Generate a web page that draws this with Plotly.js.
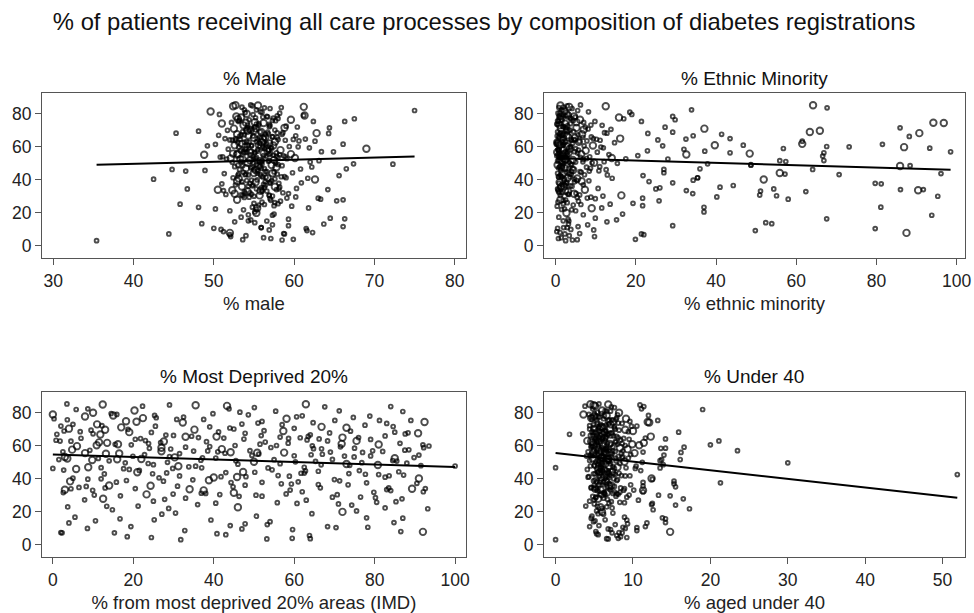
<!DOCTYPE html>
<html>
<head>
<meta charset="utf-8">
<script src="https://cdn.plot.ly/plotly-3.0.1.min.js"></script>
<style>html,body{margin:0;padding:0;background:#fff;}#chart{width:974px;height:613px;}</style>
</head>
<body>
<div id="chart"></div>
<script>
// Shared outcome: % of patients receiving all care processes (one value per practice)
const carePct = [
85.2,84.8,85.0,83.6,84.2,83.8,85.4,84.6,83.2,84.0,
82.0,82.4,81.4,82.4,81.0,80.4,79.0,81.2,80.0,79.6,
78.8,77.8,79.0,78.4,78.4,77.0,77.6,76.4,76.4,77.2,
75.4,75.4,75.4,74.4,74.6,76.0,74.1,73.0,72.5,74.8,
71.5,73.0,71.9,70.2,71.0,72.0,70.6,73.6,71.5,70.0,
69.5,68.3,68.3,68.1,69.0,66.3,67.6,68.9,69.7,66.7,
67.0,65.5,64.2,66.0,67.3,64.7,65.0,66.5,64.5,67.6,
63.4,61.8,65.0,62.3,63.0,64.0,62.8,65.6,61.5,63.6,
61.0,60.6,62.0,61.0,60.2,63.0,60.8,62.5,61.6,60.4,
60.0,59.8,59.2,59.0,58.8,58.6,57.4,60.6,58.0,59.4,
57.0,58.5,56.4,55.9,57.1,55.2,56.8,58.2,55.6,57.6,
56.4,54.4,55.4,53.5,54.0,56.0,53.2,55.0,54.7,56.2,
51.7,51.6,51.1,53.0,52.4,54.6,51.0,52.0,53.8,52.8,
49.7,49.5,50.4,51.8,50.0,52.3,49.2,50.8,52.6,51.4,
48.9,48.4,48.6,47.8,46.8,46.3,47.7,49.0,48.0,46.6,
46.7,45.3,45.7,44.2,43.5,46.3,44.3,47.0,45.0,43.8,
42.6,43.2,44.0,40.4,41.3,42.0,40.2,43.0,41.8,44.6,
41.3,39.8,38.6,38.2,37.6,39.0,40.8,37.9,38.5,41.0,
36.6,35.6,36.0,35.2,34.5,34.1,37.0,35.8,34.8,36.4,
33.5,34.5,33.7,34.1,32.9,33.2,31.7,33.0,32.2,34.0,
30.4,30.8,30.1,29.7,31.6,30.2,32.2,29.0,31.2,30.6,
28.3,27.3,28.9,27.9,29.5,26.5,25.3,27.1,28.0,25.8,
24.4,23.4,22.4,23.5,25.1,24.1,21.9,23.0,22.8,25.6,
20.6,18.6,16.4,16.8,16.2,21.3,19.3,17.4,20.0,15.8,
14.1,13.5,12.3,13.3,11.7,10.7,15.2,12.8,14.6,11.1,
10.5,9.3,7.9,10.0,7.3,8.1,9.7,8.7,7.5,11.1,
3.2,3.6,4.0,5.7,7.3,4.5,6.2,3.8,5.0,6.8,
71.2,69.2,67.9,66.9,65.8,64.9,63.9,62.6,70.8,68.6,
65.3,63.2,61.2,59.6,58.3,57.7,56.6,55.3,64.1,60.9,
57.3,56.1,54.9,53.7,52.5,51.3,50.3,49.3,48.2,55.8,
49.8,47.3,46.0,44.8,43.1,42.3,41.1,39.6,38.0,45.5,
43.6,41.6,40.0,39.2,37.3,36.2,34.6,33.4,31.9,30.5,
79.5,78.0,76.8,75.8,74.0,73.2,72.2,69.8,67.2,66.2,
76.0,72.8,69.0,65.0,61.4,58.9,54.2,50.6,46.2,41.9,
37.8,34.0,30.9,27.6,24.8,62.1,56.9,52.9,47.6,43.4,
78.2,74.9,71.7,68.4,64.6,60.2,56.7,53.9,50.9,48.5,
45.1,42.8,39.4,36.9,33.1,29.4,26.2,22.1,18.9,15.1,
80.8,77.4,73.8,70.4,67.8,64.4,59.9,55.5,51.9,47.0,
44.0,40.6,38.8,35.4,31.3,28.6,65.7,62.9,58.1,53.3
];
// Practice list size class (1 = small, 2 = large)
const listSizeClass = [
2,1,2,1,2,1,1,2,1,1, 1,1,2,1,1,1,2,1,2,1, 1,2,1,1,2,1,1,2,1,1, 1,1,1,2,2,1,2,1,1,1,
1,2,1,1,2,1,1,1,2,1, 1,1,2,1,2,1,1,1,2,1, 1,2,1,1,1,1,2,1,1,2, 1,2,1,1,2,1,1,2,1,1,
1,1,1,2,1,1,2,1,1,2, 1,2,1,1,2,1,1,1,2,1, 1,1,1,2,1,2,1,1,2,1, 1,1,2,1,1,1,2,1,1,1,
1,1,1,2,1,1,1,2,1,1, 1,1,2,1,1,2,1,1,1,2, 1,2,1,1,1,1,1,2,1,1, 1,1,1,2,1,1,1,2,1,1,
1,1,2,1,1,1,2,1,1,1, 1,1,1,1,1,1,2,1,2,1, 1,1,2,1,1,1,1,2,1,1, 1,1,2,1,1,1,1,2,1,2,
1,1,1,1,2,1,1,1,1,2, 1,1,1,1,1,1,1,1,2,1, 1,1,1,1,1,1,1,1,2,1, 1,1,1,1,1,1,1,1,2,1,
1,1,1,1,1,1,1,1,1,1, 1,1,2,1,1,1,1,1,1,1, 1,1,1,1,1,1,1,1,1,1,
2,1,1,2,1,1,1,2,1,1, 1,1,2,1,1,2,1,1,1,1, 1,2,1,1,2,1,1,1,1,2, 1,1,2,1,1,1,2,1,1,1,
1,1,1,2,1,1,1,2,1,1, 1,1,2,1,1,1,1,2,1,1,
1,1,1,1,1,1,1,1,1,1, 1,1,1,1,1,2,1,1,2,1, 1,2,1,1,1,1,2,1,1,1,
1,1,1,1,1,1,1,1,1,1, 1,1,1,2,1,1,1,1,2,1, 1,1,1,1,1,1,1,1,1,1
];
// % male
const pctMale = [
52.7,54.8,55.5,56.3,61.2,58.4,54.6,52.4,57.0,53.5,
75.0,55.3,49.6,53.8,56.0,58.2,61.3,55.8,54.1,50.7,
57.9,53.4,61.2,56.6,52.8,67.5,55.2,59.6,54.4,58.0,
62.4,66.3,53.1,56.2,54.0,57.3,51.0,55.6,59.0,52.2,
64.4,53.7,55.1,57.6,52.5,60.4,54.6,56.9,58.8,51.7,
48.1,45.3,62.8,64.3,55.9,53.2,58.5,56.7,54.2,60.2,
50.6,55.0,52.0,57.3,53.8,61.4,56.1,54.9,59.9,52.9,
62.6,53.5,51.4,55.7,57.6,58.9,54.4,56.4,50.2,60.6,
54.3,49.2,56.6,52.6,59.4,55.3,57.4,53.0,66.1,55.9,
60.5,53.9,57.2,56.3,69.0,51.8,55.4,54.7,58.3,61.9,
64.9,55.5,57.8,52.4,63.4,48.8,54.0,56.8,59.6,53.3,
55.1,56.5,52.9,58.0,51.1,57.1,60.1,54.5,56.2,53.8,
56.0,63.1,55.7,52.1,54.9,58.7,53.4,57.5,50.8,59.1,
67.4,72.3,54.2,56.9,57.7,53.6,55.3,62.0,51.6,55.8,
53.0,55.6,58.5,62.2,56.3,44.8,54.8,57.2,52.6,60.8,
66.5,46.5,48.9,55.0,57.9,53.2,59.8,54.0,56.6,51.3,
65.6,55.8,57.3,42.5,52.4,58.8,62.6,54.3,56.1,53.7,
59.0,54.7,57.0,60.9,51.0,56.4,53.1,58.1,55.2,61.7,
56.4,58.2,53.5,55.9,46.7,64.2,52.7,57.6,60.3,54.8,
51.2,55.3,52.3,57.8,53.8,56.6,59.3,54.2,58.6,50.5,
53.6,56.9,55.0,60.2,52.6,57.3,54.5,59.1,51.5,55.7,
63.3,65.3,63.0,66.1,54.4,56.0,45.8,58.3,52.9,55.0,
57.5,48.1,50.2,54.8,56.3,59.7,53.7,61.8,55.4,58.0,
55.1,57.3,66.3,64.5,59.3,52.0,57.5,53.4,55.3,54.6,
55.1,48.5,59.3,63.7,66.1,50.0,54.3,57.3,52.6,55.9,
61.5,61.6,52.0,50.9,44.4,62.3,56.9,51.2,58.7,55.9,
35.4,58.5,59.9,52.1,58.8,57.1,54.0,53.6,56.2,52.0,
55.2,53.6,56.8,54.3,57.9,55.4,52.7,56.0,54.0,58.6,
56.3,54.1,55.6,57.1,53.9,56.7,55.1,58.2,52.3,54.7,
54.6,56.2,57.4,55.3,53.3,56.8,54.9,58.0,55.7,53.0,
56.0,54.6,55.2,57.5,53.9,55.9,56.7,54.1,57.0,55.5,
53.1,56.5,55.4,52.9,56.2,54.3,58.1,55.8,53.9,56.9,
54.9,56.1,53.0,57.7,55.6,54.2,56.9,55.0,53.4,57.3,
53.2,57.0,55.8,52.7,56.5,54.0,57.8,52.3,55.0,58.4,
54.5,56.0,53.4,57.1,55.6,56.9,53.7,55.2,57.8,54.0,
56.7,55.1,54.2,57.9,53.3,56.1,54.6,58.9,55.9,53.6,
56.4,53.0,57.2,54.9,56.0,53.8,57.6,55.3,54.3,56.6,
53.9,57.4,55.3,54.6,56.4,58.0,53.1,56.9,54.5,55.9,
55.4,57.6,53.5,56.3,54.7,57.0,55.7,53.8,56.8,55.0
];
// % ethnic minority
const pctEthnic = [
64.2,2.9,1.2,67.7,3.4,0.8,6.2,12.5,4.1,1.9,
5.5,33.9,2.2,1.5,18.5,0.6,3.1,8.2,2.7,19.0,
2.4,15.8,0.9,29.2,4.6,17.0,1.3,6.1,29.8,3.8,
0.7,9.8,21.4,96.8,94.2,4.4,2.3,11.6,1.8,7.0,
85.9,1.1,27.3,3.6,37.1,7.4,13.8,0.5,5.2,2.6,
3.0,12.8,90.7,23.0,63.4,88.2,41.4,29.2,65.9,34.3,
1.4,4.8,25.5,8.9,1.8,32.5,16.1,0.4,3.9,6.6,
61.5,61.5,43.5,2.1,5.8,11.1,0.3,3.3,81.5,7.8,
46.8,26.7,4.2,39.7,67.6,1.6,9.3,14.7,0.2,2.8,
73.2,86.9,93.3,56.8,3.5,0.9,37.2,7.1,2.0,11.9,
98.5,32.0,66.9,48.4,4.7,1.7,10.4,0.6,6.4,22.9,
43.5,66.6,32.6,2.5,8.5,1.0,14.0,3.0,20.5,5.5,
66.9,55.9,57.4,2.0,6.9,0.3,12.1,4.3,1.2,17.5,
37.9,3.8,9.6,0.8,15.4,2.4,48.7,5.0,28.0,1.5,
48.7,85.9,88.4,1.6,3.2,27.0,7.7,0.5,11.0,4.4,
36.0,8.4,1.3,55.9,57.2,64.1,27.0,2.3,6.1,96.1,
21.8,70.7,1.9,4.7,35.4,0.7,51.9,12.9,3.6,6.4,
35.4,34.3,2.8,29.2,81.2,23.3,5.4,79.7,1.0,14.1,
44.3,41.0,2.1,26.0,54.4,86.0,6.9,1.4,10.6,3.7,
32.6,25.0,90.4,91.7,62.4,51.1,34.2,3.1,0.9,7.3,
55.1,50.9,95.3,40.2,4.6,11.8,1.6,7.9,3.3,16.4,
58.0,25.8,21.7,2.5,8.8,0.6,13.6,5.7,1.2,19.3,
21.7,37.0,2.2,81.1,6.3,0.4,4.0,11.5,9.0,1.9,
37.0,93.8,67.6,9.9,3.1,5.0,16.7,0.8,2.7,15.2,
52.4,53.9,29.2,3.2,5.6,0.5,1.9,8.0,12.8,2.0,
79.7,49.8,87.5,3.8,21.4,1.1,9.5,0.3,6.0,2.9,
2.5,4.2,19.9,9.7,2.3,0.7,3.4,5.4,1.4,22.0,
1.3,4.5,0.9,2.8,6.8,1.7,3.9,0.4,8.1,12.2,
2.2,5.9,1.0,3.6,0.6,7.5,2.9,13.3,4.9,1.8,
0.8,3.2,1.5,6.2,2.6,0.5,9.1,4.0,1.1,2.3,
1.9,0.7,4.4,2.6,7.2,1.3,3.0,5.3,0.9,10.8,
3.5,0.8,2.1,6.5,1.6,4.1,0.5,2.4,5.1,1.2,
2.0,4.9,1.2,0.5,3.7,8.8,1.9,2.9,5.6,0.9,
1.6,3.0,0.5,9.4,2.0,5.0,0.8,3.4,12.6,1.5,
2.7,0.6,6.0,1.9,4.4,0.7,2.4,7.7,1.4,3.9,
0.9,5.2,2.6,1.3,10.2,3.8,0.4,2.1,6.8,1.7,
4.0,1.1,8.3,2.3,0.7,5.4,2.9,1.5,6.9,3.3,
1.1,3.6,0.3,7.0,1.9,4.6,11.3,0.6,2.4,8.7,
0.5,2.2,4.7,1.0,3.1,9.9,0.8,2.5,5.7,1.4
];
// % from most deprived 20% areas (IMD)
const pctDeprived = [
62.9,29.0,12.4,67.6,43.3,84.0,3.5,35.5,50.1,22.3,
5.8,8.7,20.3,43.8,55.4,46.5,0.0,71.2,10.0,14.5,
48.6,8.0,15.9,25.3,15.0,25.7,60.6,58.1,0.3,74.7,
70.1,81.2,89.0,92.4,20.8,37.5,32.3,5.0,77.6,52.0,
39.0,11.0,25.5,45.0,73.0,2.0,60.0,83.0,66.8,18.7,
9.5,85.0,19.0,24.5,57.3,30.0,47.8,74.0,13.0,64.0,
1.0,33.0,66.2,82.6,10.0,42.5,72.0,28.1,58.6,90.8,
0.8,13.5,36.2,52.8,75.5,20.5,4.5,40.7,86.3,63.2,
51.5,92.0,26.8,16.2,45.3,68.3,81.0,38.2,58.5,10.9,
64.5,6.0,33.0,54.2,27.0,75.0,87.5,19.5,42.0,71.5,
79.5,24.0,2.5,57.5,49.0,13.2,35.0,66.8,8.0,88.5,
41.0,91.0,16.5,29.0,60.0,77.0,3.0,51.2,22.8,69.0,
1.5,55.0,84.5,30.3,11.3,64.2,45.5,22.0,72.5,37.2,
18.0,88.0,50.0,69.5,28.5,3.6,56.5,85.5,40.5,9.8,
46.0,80.8,25.0,100.0,12.0,0.0,35.5,73.0,91.5,53.5,
37.0,2.7,19.0,47.3,62.5,29.8,86.0,8.8,76.2,43.0,
81.0,73.6,21.0,5.0,41.8,56.0,91.0,12.8,31.5,66.0,
48.0,8.7,27.5,61.0,78.0,18.3,40.0,52.0,4.3,82.6,
66.0,31.0,14.0,44.8,83.5,92.6,56.8,24.3,6.5,73.4,
83.0,13.0,34.0,20.5,84.0,59.0,2.6,37.5,62.0,89.3,
70.7,29.9,50.5,16.8,45.0,10.3,92.1,76.5,38.0,23.3,
33.0,7.9,69.5,86.8,52.0,25.0,40.5,63.0,12.5,80.5,
36.0,13.4,82.6,21.2,60.7,74.3,93.2,3.7,46.0,55.8,
75.5,27.1,78.0,5.5,87.0,14.8,30.5,50.6,72.0,16.7,
54.0,84.8,53.3,4.0,44.1,78.3,25.2,47.8,10.6,19.4,
70.4,59.6,92.0,8.6,15.3,86.5,47.0,32.8,2.0,68.3,
31.8,53.2,59.5,63.8,2.3,24.5,43.0,64.0,18.5,40.8,
17.0,52.5,88.3,11.8,34.5,61.5,79.0,27.6,44.0,6.8,
56.5,23.0,71.8,39.0,64.8,4.8,82.0,31.5,47.5,15.5,
9.2,44.2,67.0,19.9,85.0,36.8,60.3,23.7,73.8,50.8,
76.8,33.8,5.8,62.8,24.8,87.2,45.8,70.0,15.8,54.5,
28.3,58.8,12.0,38.8,90.5,47.8,66.5,3.0,79.8,41.5,
39.8,78.8,22.4,3.6,64.7,47.0,12.2,35.2,87.6,51.8,
30.8,57.0,2.8,76.0,23.8,92.2,49.5,65.3,17.6,83.6,
44.3,4.5,58.0,27.8,71.0,11.5,38.5,89.8,31.2,61.7,
62.0,18.2,84.6,41.2,7.0,55.6,27.0,79.0,14.0,66.7,
21.5,77.7,34.8,59.3,9.9,46.3,85.3,28.8,64.4,39.3,
87.0,32.5,51.0,4.0,68.8,21.8,93.5,42.8,16.0,62.5,
50.2,26.4,71.3,8.3,36.9,80.2,63.5,1.8,29.3,74.9
];
// % aged under 40
const pctUnder40 = [
4.5,10.9,6.8,7.2,5.1,11.4,5.6,4.9,7.6,3.8,
19.0,4.8,6.0,11.1,7.1,5.4,3.6,6.4,8.2,5.9,
8.0,5.0,4.3,12.0,6.6,7.9,5.5,9.1,6.2,4.6,
13.2,5.3,6.9,11.9,7.4,4.7,12.1,5.8,6.5,9.6,
5.6,7.1,9.8,4.4,6.2,10.5,5.0,8.6,6.0,7.7,
8.2,15.9,6.3,5.1,10.0,4.5,7.0,5.7,9.0,6.8,
1.8,5.9,14.2,7.5,3.5,11.6,6.3,4.8,8.8,6.0,
6.4,11.4,5.2,7.8,4.1,9.5,5.7,12.3,6.7,8.4,
7.1,20.0,5.4,9.9,6.6,21.1,4.9,7.7,5.8,10.8,
5.5,6.1,16.6,4.6,8.3,14.2,6.9,5.2,9.3,7.4,
6.7,13.6,4.2,7.0,23.5,5.6,8.7,6.1,10.2,4.9,
5.3,14.0,6.5,8.1,4.7,16.2,5.9,7.3,9.7,11.3,
16.1,13.7,4.4,6.0,7.8,5.1,13.5,6.8,4.0,8.6,
30.0,5.5,8.9,6.3,11.2,4.8,7.1,5.6,9.4,6.6,
6.0,5.2,13.9,4.5,0.0,7.6,10.4,6.4,5.0,13.5,
9.1,5.8,4.1,7.3,6.2,10.3,5.4,8.0,11.0,6.9,
51.9,7.5,5.7,6.4,4.3,8.5,12.4,5.1,9.0,6.1,
6.7,12.5,15.3,5.3,21.3,7.9,5.9,11.3,6.5,4.2,
5.6,11.3,6.9,15.5,8.4,5.0,15.3,7.2,4.6,9.7,
7.0,4.6,6.1,8.9,5.4,10.1,6.3,11.3,7.6,5.1,
5.7,8.1,13.3,14.8,6.6,9.5,11.3,5.2,7.4,6.0,
6.2,5.0,9.2,16.5,7.8,4.4,6.9,10.7,5.5,8.3,
12.4,5.4,7.3,3.9,12.5,15.5,17.3,6.6,5.8,8.9,
5.3,6.2,13.8,8.9,4.6,12.6,7.4,4.7,6.0,14.2,
4.9,14.2,7.7,11.8,5.6,8.7,6.4,9.3,5.1,11.6,
10.5,7.1,14.8,9.0,8.6,5.2,6.8,10.5,8.2,4.4,
0.0,6.8,8.1,7.9,7.3,9.2,5.5,6.6,8.4,5.3,
5.8,6.5,4.9,7.1,5.5,8.1,6.0,4.6,7.6,9.4,
6.2,5.3,7.0,4.8,6.6,5.6,7.7,6.3,5.1,8.0,
5.4,6.4,4.7,7.2,5.9,6.8,5.2,8.3,6.1,4.9,
6.0,7.4,5.5,6.8,4.9,7.0,6.3,8.0,5.7,6.5,
6.8,5.6,7.5,6.0,6.9,5.0,7.1,5.8,8.3,6.4,
5.0,6.3,4.6,7.3,5.4,6.9,4.4,5.7,6.7,5.3,
7.8,4.9,6.4,5.5,8.6,6.0,4.5,7.0,5.8,9.6,
6.2,5.3,7.9,6.7,5.0,4.8,7.4,5.6,6.9,8.2,
5.2,6.9,7.6,4.7,6.5,9.0,5.9,6.2,7.8,5.4,
6.1,7.7,5.1,6.6,8.8,4.8,7.2,6.0,5.5,9.2,
6.6,5.7,8.1,5.0,7.3,6.1,4.6,8.5,6.8,5.9,
5.5,6.9,4.9,7.6,6.3,5.2,7.9,5.0,6.4,8.7
];
// Panel texts and fitted regression lines (intercept, slope) per panel
const panelTitles = ['% Male', '% Ethnic Minority', '% Most Deprived 20%', '% Under 40'];
const axisTitles = ['% male', '% ethnic minority', '% from most deprived 20% areas (IMD)', '% aged under 40'];
const fitIntercepts = [44.64, 53.1, 54.7, 55.7];
const fitSlopes = [0.126, -0.0711, -0.075, -0.523];

const xSets = [pctMale, pctEthnic, pctDeprived, pctUnder40];
const sizes = listSizeClass.map(c => c === 1 ? 3.8 : 6.5);
const FONT = 'Arial, "Liberation Sans", sans-serif';
const traces = [];
xSets.forEach((xs, i) => {
  const ax = i === 0 ? '' : String(i + 1);
  traces.push({
    type: 'scatter', mode: 'markers', x: xs, y: carePct,
    xaxis: 'x' + ax, yaxis: 'y' + ax, hoverinfo: 'x+y',
    marker: {symbol: 'circle-open', color: '#000', size: sizes, line: {width: 1.9, color: '#000'}}
  });
  const xmin = Math.min(...xs), xmax = Math.max(...xs);
  traces.push({
    type: 'scatter', mode: 'lines', x: [xmin, xmax],
    y: [fitIntercepts[i] + fitSlopes[i] * xmin, fitIntercepts[i] + fitSlopes[i] * xmax],
    xaxis: 'x' + ax, yaxis: 'y' + ax, line: {color: '#000', width: 2}, hoverinfo: 'skip'
  });
});

const colL = [0.0431, 0.4784], colR = [0.5585, 0.9908];
const rowT = [0.5791, 0.8483], rowB = [0.0914, 0.3605];
function xa(domain, anchor, range, tickvals, title) {
  return {domain, anchor, range, tickvals, ticktext: tickvals.map(String), showgrid: false, zeroline: false,
    showline: true, mirror: true, linecolor: '#555', linewidth: 1, ticks: 'outside', ticklen: 6,
    tickcolor: '#555', tickfont: {family: FONT, size: 17.5, color: '#222'}, ticklabelstandoff: 1,
    title: {text: title, font: {family: FONT, size: 18.5, color: '#222'}, standoff: 7}, fixedrange: true};
}
function ya(domain, anchor) {
  return {domain, anchor, range: [-7.3, 92.6], tickvals: [0, 20, 40, 60, 80], showgrid: false, zeroline: false,
    showline: true, mirror: true, linecolor: '#555', linewidth: 1, ticks: 'outside', ticklen: 6,
    tickcolor: '#555', tickfont: {family: FONT, size: 17.5, color: '#222'}, fixedrange: true};
}
const layout = {
  width: 974, height: 613, margin: {l: 0, r: 0, t: 0, b: 0},
  paper_bgcolor: '#fff', plot_bgcolor: '#fff', showlegend: false,
  title: {text: '% of patients receiving all care processes by composition of diabetes registrations',
    x: 0.497, xanchor: 'center', y: 0.964, yanchor: 'middle', font: {family: FONT, size: 23.8, color: '#111'}},
  xaxis: xa(colL, 'y', [28.6, 81.4], [30, 40, 50, 60, 70, 80], axisTitles[0]),
  yaxis: ya(rowT, 'x'),
  xaxis2: xa(colR, 'y2', [-2.9, 102.1], [0, 20, 40, 60, 80, 100], axisTitles[1]),
  yaxis2: ya(rowT, 'x2'),
  xaxis3: xa(colL, 'y3', [-2.7, 102.7], [0, 20, 40, 60, 80, 100], axisTitles[2]),
  yaxis3: ya(rowB, 'x3'),
  xaxis4: xa(colR, 'y4', [-1.5, 52.9], [0, 10, 20, 30, 40, 50], axisTitles[3]),
  yaxis4: ya(rowB, 'x4'),
  annotations: panelTitles.map((t, i) => ({
    text: t, xref: 'paper', yref: 'paper', showarrow: false,
    x: i % 2 === 0 ? 0.2608 : 0.7746, y: i < 2 ? 0.8727 : 0.385,
    xanchor: 'center', yanchor: 'middle', font: {family: FONT, size: 19, color: '#111'}
  }))
};
Plotly.newPlot('chart', traces, layout, {staticPlot: true, displayModeBar: false});
</script>
</body>
</html>
